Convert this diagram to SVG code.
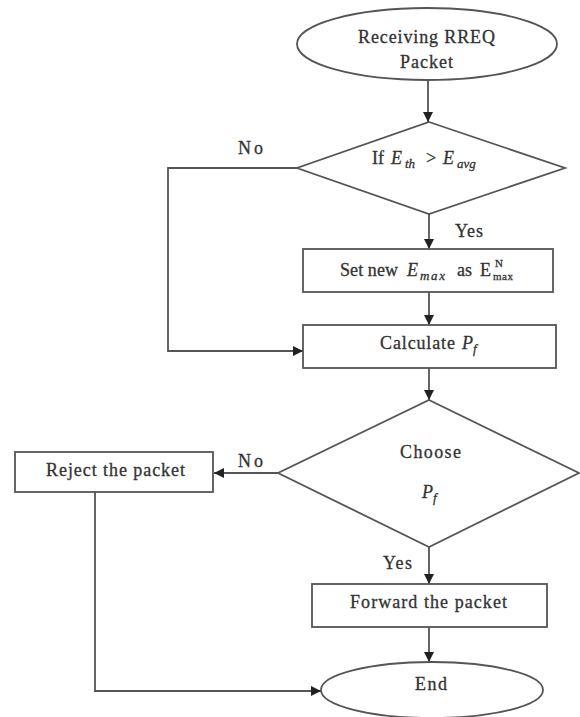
<svg xmlns="http://www.w3.org/2000/svg" width="580" height="717" viewBox="0 0 580 717">
<style>
.shape{fill:#fff;stroke:#555;stroke-width:1.8}
.line{fill:none;stroke:#555;stroke-width:1.8}
.t{font-family:"Liberation Serif","Times New Roman",serif;font-size:18px;fill:#333;stroke:#333;stroke-width:0.3}
.i{font-style:italic}
.s{font-size:13px}
.ss{font-size:11px}
</style>
<defs>
<marker id="arr" viewBox="0 0 10 10" refX="10" refY="5" markerWidth="10" markerHeight="10" markerUnits="userSpaceOnUse" orient="auto">
<path d="M0,0 L10,5 L0,10 z" fill="#222"/>
</marker>
</defs>
<rect width="580" height="717" fill="#fff"/>
<g id="connectors">
<path class="line" d="M428,80 V122" marker-end="url(#arr)"/>
<path class="line" d="M429,214 V249" marker-end="url(#arr)"/>
<path class="line" d="M297,168 H168 V351 H303" marker-end="url(#arr)"/>
<path class="line" d="M429,292 V325" marker-end="url(#arr)"/>
<path class="line" d="M429,368 V400" marker-end="url(#arr)"/>
<path class="line" d="M278,473 H214" marker-end="url(#arr)"/>
<path class="line" d="M95,492 V691 H321" marker-end="url(#arr)"/>
<path class="line" d="M429,547 V584" marker-end="url(#arr)"/>
<path class="line" d="M429,627 V662" marker-end="url(#arr)"/>
<text class="t" x="238" y="154" textLength="25">No</text>
<text class="t" x="455" y="237" textLength="28">Yes</text>
<text class="t" x="238" y="467" textLength="25">No</text>
<text class="t" x="383" y="569" textLength="29">Yes</text>
</g>
<g id="start">
<ellipse class="shape" cx="427" cy="44" rx="130" ry="36"/>
<text class="t" x="358" y="43" textLength="137">Receiving RREQ</text>
<text class="t" x="400" y="68" textLength="53">Packet</text>
</g>
<g id="decision1">
<polygon class="shape" points="429,122 565,168 429,214 297,168"/>
<text class="t" x="372" y="164">If</text>
<text class="t i" x="391" y="164">E</text>
<text class="t i s" x="405" y="168">th</text>
<text class="t" x="426" y="164">&gt;</text>
<text class="t i" x="443" y="164">E</text>
<text class="t i s" x="457" y="168">avg</text>
</g>
<g id="setnew">
<rect class="shape" x="303" y="249" width="250" height="43"/>
<text class="t" x="340" y="276" textLength="58">Set new</text>
<text class="t i" x="407" y="276">E</text>
<text class="t i s" x="420" y="280" textLength="25">max</text>
<text class="t" x="457" y="276">as</text>
<text class="t" x="480" y="276">E</text>
<text class="t ss" x="495" y="267">N</text>
<text class="t ss" x="493" y="280" textLength="20">max</text>
</g>
<g id="calculate">
<rect class="shape" x="303" y="325" width="253" height="43"/>
<text class="t" x="380" y="349" textLength="75">Calculate</text>
<text class="t i" x="462" y="349">P</text>
<text class="t i s" x="473" y="353">f</text>
</g>
<g id="decision2">
<polygon class="shape" points="429,400 579,473 429,547 278,473"/>
<text class="t" x="400" y="458" textLength="61">Choose</text>
<text class="t i" x="422" y="498">P</text>
<text class="t i s" x="433" y="502">f</text>
</g>
<g id="reject">
<rect class="shape" x="15" y="452" width="198" height="40"/>
<text class="t" x="46" y="476" textLength="139">Reject the packet</text>
</g>
<g id="forward">
<rect class="shape" x="312" y="584" width="235" height="43"/>
<text class="t" x="350" y="608" textLength="157">Forward the packet</text>
</g>
<g id="end">
<ellipse class="shape" cx="432" cy="690" rx="111" ry="28"/>
<text class="t" x="415" y="690" textLength="32">End</text>
</g>
</svg>
